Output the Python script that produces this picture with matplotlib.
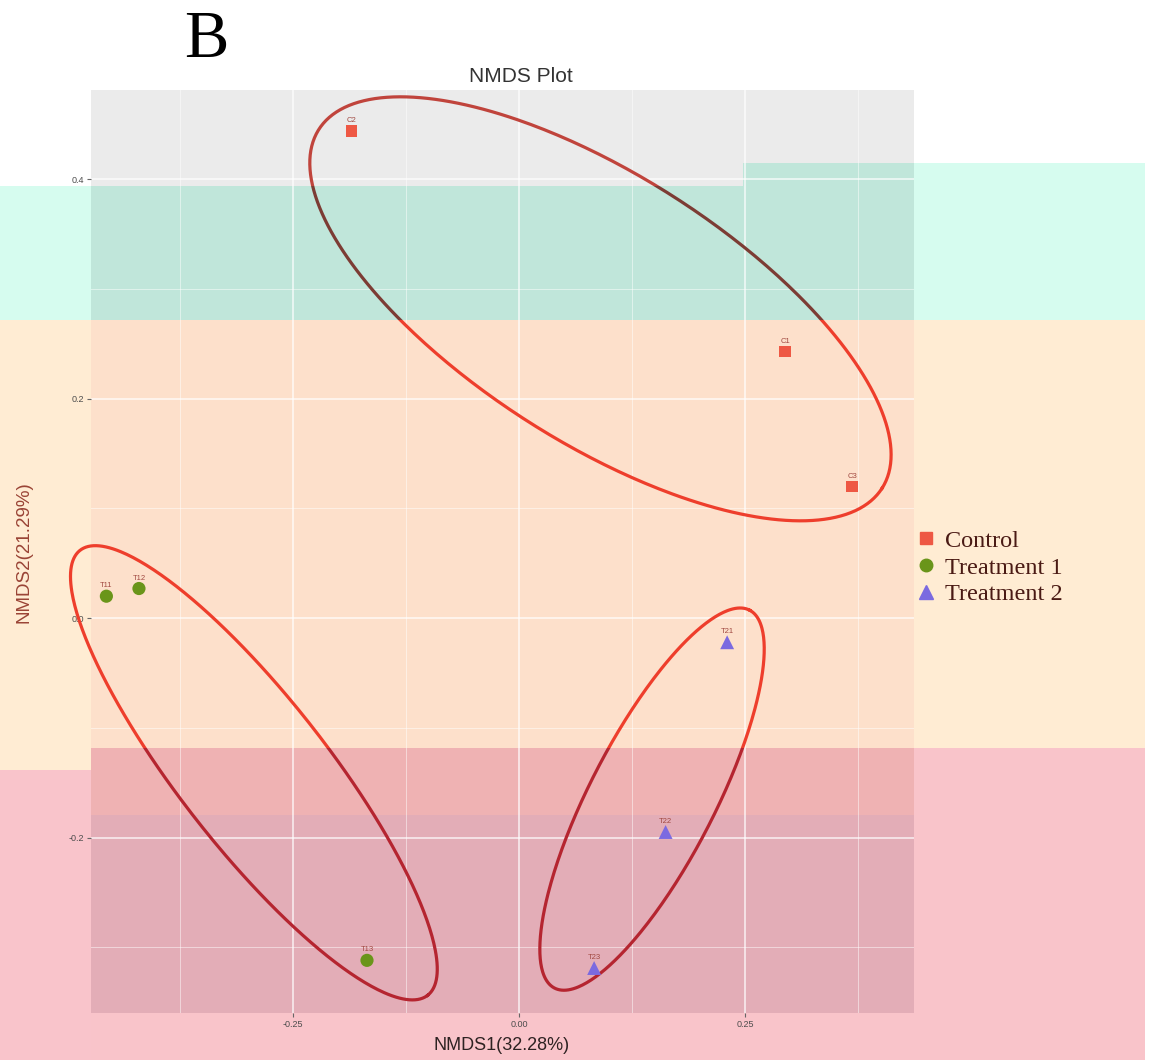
import numpy as np
import matplotlib.pyplot as plt
from matplotlib.patches import Rectangle
from matplotlib.lines import Line2D

plt.rcParams['font.family'] = 'Liberation Sans'

# sample scores
samples = ["C1", "C2", "C3", "T11", "T12", "T13", "T21", "T22", "T23"]
groups = ["Control", "Control", "Control",
          "Treatment 1", "Treatment 1", "Treatment 1",
          "Treatment 2", "Treatment 2", "Treatment 2"]
nmds1 = [0.294, -0.185, 0.368, -0.456, -0.420, -0.168, 0.230, 0.162, 0.083]
nmds2 = [0.243, 0.444, 0.120, 0.020, 0.027, -0.312, -0.022, -0.195, -0.319]

group_names = ["Control", "Treatment 1", "Treatment 2"]
# ellipse per group: centre, semi axes (in x units) and tilt (degrees)
ell_cx = [0.090, -0.293, 0.147]
ell_cy = [0.282, -0.141, -0.165]
ell_a = [0.369, 0.312, 0.235]
ell_b = [0.148, 0.082, 0.069]
ell_angle = [-32.5, -52.0, 62.7]

x_ticks = [-0.25, 0.0, 0.25]
x_ticklabels = ["-0.25", "0.00", "0.25"]
y_ticks = [-0.2, 0.0, 0.2, 0.4]
y_ticklabels = ["-0.2", "0.0", "0.2", "0.4"]

markers = {"Control": "s", "Treatment 1": "o", "Treatment 2": "^"}
colors = {"Control": "#EE5844", "Treatment 1": "#6A951A", "Treatment 2": "#7B6AE0"}
sizes = {"Control": 70, "Treatment 1": 90, "Treatment 2": 100}

W, H = 1152, 1060
fig = plt.figure(figsize=(W / 100, H / 100), dpi=100)


def rect(x0, y0, x1, y1, color, z):
    # pixel box (y measured from the top) -> figure coords
    return Rectangle((x0 / W, 1 - y1 / H), (x1 - x0) / W, (y1 - y0) / H,
                     transform=fig.transFigure, facecolor=color,
                     edgecolor='none', zorder=z)


# tinted bands across the picture (outside the panel)
for box, c in [((0, 186, 1145, 320), "#D6FCEF"), ((743, 163, 1145, 186), "#D6FCEF"),
               ((0, 320, 1145, 748), "#FFECD3"), ((0, 748, 91, 770), "#FFECD3"),
               ((91, 748, 1145, 1060), "#F9C4CA"), ((0, 770, 91, 1060), "#F9C4CB")]:
    fig.add_artist(rect(*box, c, -1))

ax = fig.add_axes([91 / W, 1 - 1013 / H, 823 / W, 923 / H])
ax.set_xlim(-0.473, 0.4365)
ax.set_ylim(-0.360, 0.4815)
ax.set_facecolor("#EBEBEB")
for s in ax.spines.values():
    s.set_visible(False)

# same bands inside the panel
for box, c in [((0, 186, 1145, 320), "#C0E6DA"), ((743, 163, 1145, 186), "#C0E6DA"),
               ((0, 320, 1145, 748), "#FDE0CB"), ((0, 748, 1145, 815), "#EFB2B3"),
               ((0, 815, 1145, 1060), "#E3ADB7")]:
    ax.add_artist(rect(*box, c, 0.2))

ax.set_xticks(x_ticks)
ax.set_xticklabels(x_ticklabels)
ax.set_yticks(y_ticks)
ax.set_yticklabels(y_ticklabels)
ax.set_xticks([-0.375, -0.125, 0.125, 0.375], minor=True)
ax.set_yticks([-0.3, -0.1, 0.1, 0.3], minor=True)
ax.set_axisbelow(True)
ax.grid(which='major', color='white', lw=1.4, alpha=0.65)
ax.grid(which='minor', color='white', lw=0.7, alpha=0.5)
ax.tick_params(which='major', length=3, color='#666666', labelsize=6.5,
               labelcolor='#4D4D4D', pad=2)
ax.tick_params(which='minor', length=0)

# ellipses, the line is darker where the bands cover it
px_x = 823 / (ax.get_xlim()[1] - ax.get_xlim()[0])
px_y = 923 / (ax.get_ylim()[1] - ax.get_ylim()[0])
t = np.linspace(0, 2 * np.pi, 400)
line_bands = [(0, 186, "#C0443C"), (186, 320, "#7C3C34"),
              (320, 748, "#EE3E2C"), (748, 1060, "#B52530")]
for i in range(len(group_names)):
    th = np.deg2rad(ell_angle[i])
    u = ell_a[i] * np.cos(t)
    v = ell_b[i] * np.sin(t)
    ex = ell_cx[i] + u * np.cos(th) - v * np.sin(th)
    ey = ell_cy[i] + (u * np.sin(th) + v * np.cos(th)) * px_x / px_y
    for y0, y1, c in line_bands:
        ln, = ax.plot(ex, ey, color=c, lw=2.3, zorder=2.5)
        ln.set_clip_path(rect(0, y0, W, y1, 'none', 0))

for g in group_names:
    xs = [x for x, gg in zip(nmds1, groups) if gg == g]
    ys = [y for y, gg in zip(nmds2, groups) if gg == g]
    ax.scatter(xs, ys, marker=markers[g], s=sizes[g], color=colors[g],
               edgecolors='none', zorder=3)

for name, x, y in zip(samples, nmds1, nmds2):
    ax.annotate(name, (x, y), xytext=(0, 5), textcoords='offset points',
                ha='center', va='bottom', fontsize=5.5, color='#A04840', zorder=4)

ax.set_xlabel("NMDS1(32.28%)", fontsize=13, color='#2E2222')
ax.xaxis.set_label_coords((502 - 91) / 823, -(1045 - 1013) / 923)
ax.xaxis.label.set_va('center')
ax.set_ylabel("NMDS2(21.29%)", fontsize=13.5, color='#9A4436')
ax.yaxis.set_label_coords((24 - 91) / 823, (1013 - 552) / 923)
ax.yaxis.label.set_va('center')

handles = [Line2D([], [], ls='none', marker=markers[g], color=colors[g],
                  markersize=9 if g != "Treatment 2" else 10) for g in group_names]
ax.legend(handles, group_names, loc='upper left',
          bbox_to_anchor=(904 / W, 1 - 520 / H), bbox_transform=fig.transFigure,
          frameon=False, prop={'family': 'Liberation Serif', 'size': 17.5},
          labelcolor='#4A1A14', handletextpad=0.3, labelspacing=0.2,
          handlelength=1.0, borderaxespad=0)

fig.text(521 / W, 1 - 82 / H, "NMDS Plot", ha='center', va='baseline',
         fontsize=15, color='#333333')
fig.text(206 / W, 1 - 57 / H, "B", ha='center', va='baseline',
         fontsize=48, family='Liberation Serif', color='black')

fig.savefig("out.png", dpi=100)
